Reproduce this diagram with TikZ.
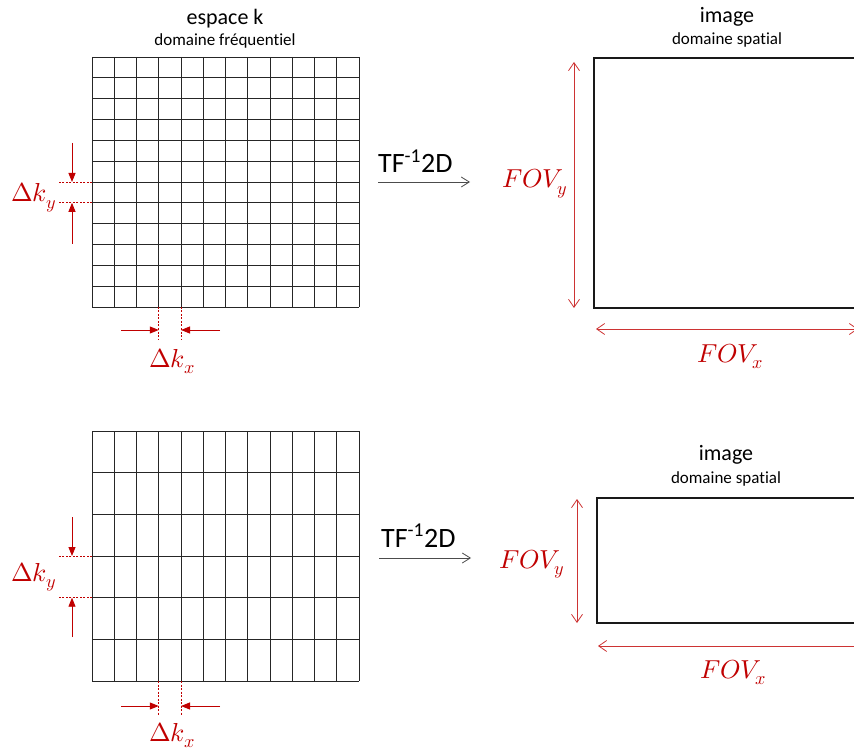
\documentclass[tikz,border=0pt]{standalone}
\usepackage{fontspec}
\usepackage{unicode-math}
\setmainfont{Carlito}[Ligatures=NoCommon]
\setmathfont{Latin Modern Math}
\usepackage{xcolor}
\usepackage{tikz}
\usetikzlibrary{arrows.meta, positioning, calc}
\definecolor{kred}{RGB}{192,0,0}

\begin{document}
\begin{tikzpicture}[
    x=1pt, y=-1pt,
    gridline/.style={draw=black!85, line width=0.8pt},
    frame/.style={draw=black!90, line width=1.4pt},
    guide/.style={draw=kred, line width=0.6pt, dash pattern=on 2pt off 1.5pt},
    dimarr/.style={draw=kred, line width=0.9pt, -{Triangle[length=9pt, width=7pt]}},
    fovarr/.style={draw=kred!80, line width=0.8pt, {Straight Barb[length=8pt, width=11pt]}-{Straight Barb[length=8pt, width=11pt]}},
    tfarr/.style={draw=black!70, line width=0.8pt, -{Straight Barb[length=8pt, width=10pt]}},
    title/.style={font=\fontsize{22}{24}\selectfont, anchor=base, inner sep=0pt},
    subtitle/.style={font=\fontsize{17}{19}\selectfont, anchor=base, inner sep=0pt},
    tflbl/.style={font=\fontsize{28}{30}\selectfont, anchor=base west, inner sep=0pt},
    mathlbl/.style={text=kred, font=\fontsize{26}{28}\selectfont, anchor=base west, inner sep=0pt},
]
\useasboundingbox (0,0) rectangle (854,751);
\clip (0,0) rectangle (854,751);

% ---- top row: fine k-space sampling
\node[title] (ktitle) at (225,25) {espace k};
\node[subtitle] (ksub) at (225,46) {domaine fréquentiel};
\foreach \i in {0,...,12}
  \draw[gridline] ({92+22.25*\i},57) -- ({92+22.25*\i},307);
\foreach \j in {0,...,12}
  \draw[gridline] (92,{57+20.833*\j}) -- (359,{57+20.833*\j});

\coordinate (kyA) at (92,182.0);
\coordinate (kyB) at (92,202.8);
\coordinate (kyL) at (58,0);
\draw[guide] (kyA) -- (kyL |- kyA);
\draw[guide] (kyB) -- (kyL |- kyB);
\coordinate (kyup) at (72,143);
\coordinate (kydn) at (72,244);
\draw[dimarr] (kyup) -- (kyup |- kyA);
\draw[dimarr] (kydn) -- (kydn |- kyB);
\node[mathlbl] (dky) at (11,202) {$\Delta k_y$};

\coordinate (kxA) at (158.75,307);
\coordinate (kxB) at (181,307);
\coordinate (kxE) at (0,340);
\draw[guide] (kxA) -- (kxA |- kxE);
\draw[guide] (kxB) -- (kxB |- kxE);
\coordinate (kxl) at (121,330);
\coordinate (kxr) at (220,330);
\draw[dimarr] (kxl) -- (kxA |- kxl);
\draw[dimarr] (kxr) -- (kxB |- kxr);
\node[mathlbl] (dkx) at (149,367) {$\Delta k_x$};

\node[tflbl] (tf) at (378,173) {TF\textsuperscript{-1}2D};
\coordinate (tfa) at (378,182);
\coordinate (tfb) at (470,182);
\draw[tfarr] (tfa) -- (tfb);

\node[title] (ititle) at (727,23) {image};
\node[subtitle] (isub) at (727,45) {domaine spatial};
\coordinate (imgnw) at (594,58);
\coordinate (imgse) at (900,308);
\draw[frame] (imgnw) rectangle (imgse);
\coordinate (fyA) at (574,62);
\coordinate (fyB) at (574,308);
\draw[fovarr] (fyA) -- (fyB);
\node[mathlbl] (fovy) at (502,188) {$FOV_y$};
\coordinate (fxA) at (596,329);
\coordinate (fxB) at (858,329);
\draw[fovarr] (fxA) -- (fxB);
\node[mathlbl] (fovx) at (697,362) {$FOV_x$};

% ---- bottom row: coarser sampling along y
\foreach \i in {0,...,12}
  \draw[gridline] ({92+22.25*\i},431) -- ({92+22.25*\i},681);
\foreach \j in {0,...,6}
  \draw[gridline] (92,{431+41.667*\j}) -- (359,{431+41.667*\j});

\coordinate (kyC) at (92,556.0);
\coordinate (kyD) at (92,597.7);
\draw[guide] (kyC) -- (kyL |- kyC);
\draw[guide] (kyD) -- (kyL |- kyD);
\coordinate (kyup2) at (72,517);
\coordinate (kydn2) at (72,637);
\draw[dimarr] (kyup2) -- (kyup2 |- kyC);
\draw[dimarr] (kydn2) -- (kydn2 |- kyD);
\node[mathlbl] (dky2) at (11,581) {$\Delta k_y$};

\coordinate (kxC) at (158.75,681);
\coordinate (kxD) at (181,681);
\coordinate (kxF) at (0,716);
\draw[guide] (kxC) -- (kxC |- kxF);
\draw[guide] (kxD) -- (kxD |- kxF);
\coordinate (kxl2) at (121,706);
\coordinate (kxr2) at (220,706);
\draw[dimarr] (kxl2) -- (kxC |- kxl2);
\draw[dimarr] (kxr2) -- (kxD |- kxr2);
\node[mathlbl] (dkx2) at (149,741) {$\Delta k_x$};

\node[tflbl] (tf2) at (381,547) {TF\textsuperscript{-1}2D};
\coordinate (tfc) at (379,558);
\coordinate (tfd) at (471,558);
\draw[tfarr] (tfc) -- (tfd);

\node[title] (ititle2) at (726,460) {image};
\node[subtitle] (isub2) at (726,483) {domaine spatial};
\coordinate (img2nw) at (597,498);
\coordinate (img2se) at (900,623);
\draw[frame] (img2nw) rectangle (img2se);
\coordinate (fyC) at (577,499);
\coordinate (fyD) at (577,623);
\draw[fovarr] (fyC) -- (fyD);
\node[mathlbl] (fovy2) at (499,568) {$FOV_y$};
\coordinate (fxC) at (598,646);
\coordinate (fxD) at (870,646);
\draw[fovarr] (fxC) -- (fxD);
\node[mathlbl] (fovx2) at (700,678) {$FOV_x$};
\end{tikzpicture}
\end{document}
